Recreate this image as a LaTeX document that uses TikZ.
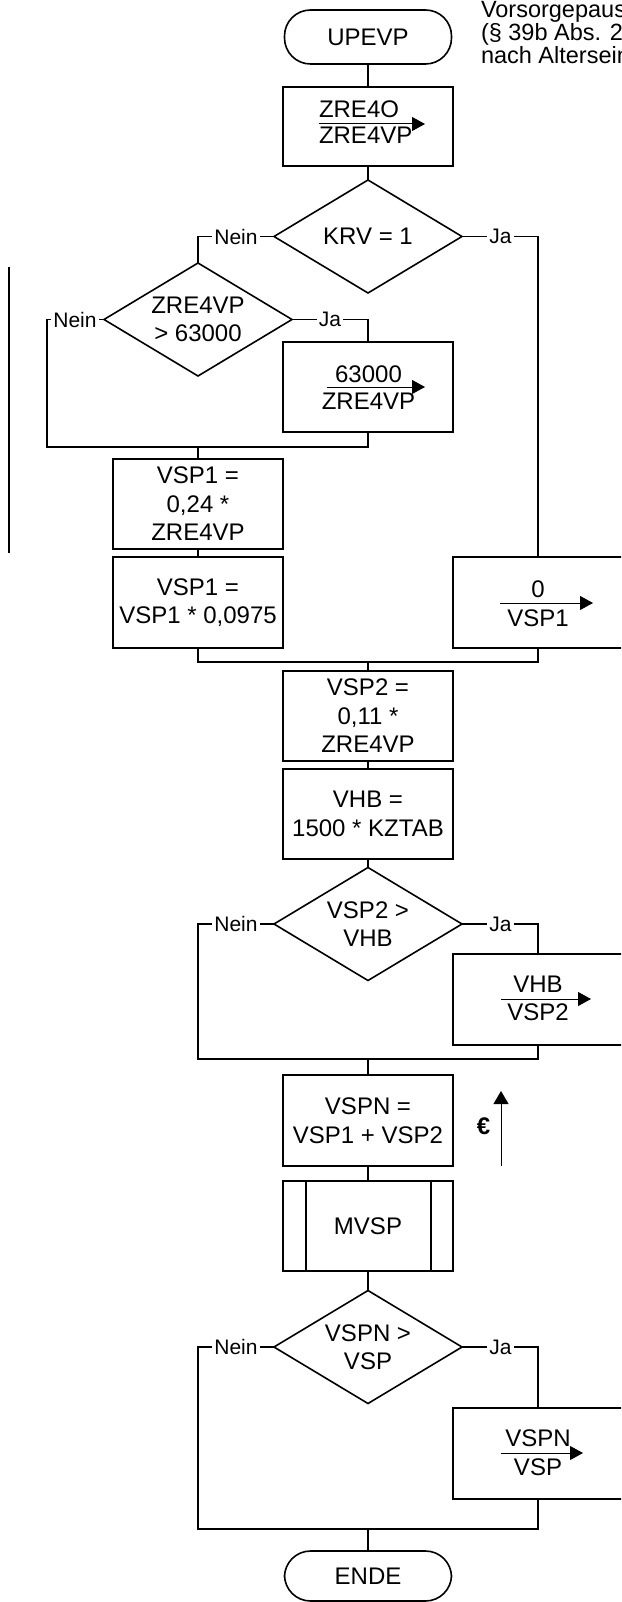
\documentclass[tikz,border=0pt]{standalone}
\usepackage{fontspec}
\setmainfont{Liberation Sans}
\usetikzlibrary{shapes.geometric,arrows.meta,calc}
\newcommand\boxfont{\fontsize{24}{28.5}\selectfont}
\newcommand\lblfont{\fontsize{21}{24}\selectfont}
\newcommand\notefont{\fontsize{23.5}{23.5}\selectfont}
\begin{document}
\begin{tikzpicture}[x=1pt,y=-1pt,
  every node/.style={inner sep=0pt,outer sep=0pt},
  ln/.style={line width=1.6pt},
  proc/.style={draw,line width=1.6pt,minimum width=170pt,minimum height=90pt,align=center,font=\boxfont},
  term/.style={draw,line width=1.6pt,rounded corners=26pt,minimum width=167pt,minimum height=54pt,font=\boxfont},
  dec/.style={diamond,draw,line width=1.6pt,aspect=1.66,minimum width=188pt,minimum height=113pt,align=center,font=\boxfont},
  lbl/.style={fill=white,inner xsep=2pt,inner ysep=1pt,font=\lblfont},
  txt/.style={font=\boxfont},
  asg/.style={line width=1pt,-{Triangle[length=13pt,width=14pt]}},
]
\useasboundingbox (0,0) rectangle (621,1602);
\clip (0,0) rectangle (621,1602);

% annotation text (top right), cut off by the right edge as in the original
\node[anchor=base west,font=\notefont] (t1) at (481,18) {Vorsorgepauschale};
\node[anchor=base west,font=\notefont] (t2) at (481,41) {(§ 39b Abs. 2 Satz 5};
\node[anchor=base west,font=\notefont] (t3) at (481,64) {nach Alterseinkünften};

% nodes
\node[term] (start) at (368,37) {UPEVP};
\node[proc,minimum height=79pt] (z1) at (368,126.5) {};
\node[dec] (krv) at (368,236.5) {KRV = 1};
\node[dec] (d63) at (198,319.5) {ZRE4VP\\> 63000};
\node[proc] (a63) at (368,387) {};
\node[proc] (vsp1a) at (198,504) {VSP1 =\\0,24 *\\ZRE4VP};
\node[proc,minimum height=91pt] (vsp1b) at (198,602.5) {VSP1 =\\VSP1 * 0,0975};
\node[proc,minimum height=91pt] (a0) at (538,602.5) {};
\node[proc] (vsp2) at (368,716) {VSP2 =\\0,11 *\\ZRE4VP};
\node[proc] (vhb) at (368,814) {VHB =\\1500 * KZTAB};
\node[dec] (d2) at (368,924) {VSP2 >\\VHB};
\node[proc,minimum height=91pt] (avhb) at (538,999.5) {};
\node[proc,minimum height=91pt] (vspn) at (368,1120.5) {VSPN =\\VSP1 + VSP2};
\node[proc] (mvsp) at (368,1226) {MVSP};
\node[dec] (d3) at (368,1347) {VSPN >\\VSP};
\node[proc,minimum height=91pt] (avspn) at (538,1453.5) {};
\node[term,minimum height=50pt] (ende) at (368,1576) {ENDE};

% subroutine side bars
\draw[ln] ($(mvsp.north west)+(23,0)$) -- ($(mvsp.south west)+(23,0)$);
\draw[ln] ($(mvsp.north east)+(-22,0)$) -- ($(mvsp.south east)+(-22,0)$);

% assignment contents
\node[txt,anchor=base west] (z1n) at (319,117.5) {ZRE4O};
\node[txt,anchor=base west] (z1d) at (319,144) {ZRE4VP};
\draw[asg] ($(z1.center)+(-49,-2.5)$) -- ($(z1.center)+(57,-2.5)$);

\node[txt,anchor=base] (a63n) at (368.5,382) {63000};
\node[txt,anchor=base] (a63d) at (368.5,409) {ZRE4VP};
\draw[asg] ($(a63.center)+(-41,0)$) -- ($(a63.center)+(57,0)$);

\node[txt,anchor=base] (a0n) at (538,597) {0};
\node[txt,anchor=base] (a0d) at (538,626) {VSP1};
\draw[asg] ($(a0.center)+(-38,0.5)$) -- ($(a0.center)+(55,0.5)$);

\node[txt,anchor=base] (avhbn) at (538,992) {VHB};
\node[txt,anchor=base] (avhbd) at (538,1020.5) {VSP2};
\draw[asg] ($(avhb.center)+(-37,-0.5)$) -- ($(avhb.center)+(53,-0.5)$);

\node[txt,anchor=base] (avspnn) at (538,1446.5) {VSPN};
\node[txt,anchor=base] (avspnd) at (538,1475.5) {VSP};
\draw[asg] ($(avspn.center)+(-37,-0.5)$) -- ($(avspn.center)+(45,-0.5)$);

% main connectors
\draw[ln] (start) -- (z1);
\draw[ln] (z1) -- (krv);

\draw[ln] (krv.west) -| (d63.north);
\node[lbl] (n1) at (236,236.5) {Nein};
\draw[ln] (krv.east) -| (a0.north);
\node[lbl] (j1) at (500.5,236.5) {Ja};

\coordinate (m1l) at (47,447);
\coordinate (m1c) at (198,447);
\draw[ln] (d63.west) -| (m1l) -| (a63.south);
\node[lbl] (n2) at (75,319.5) {Nein};
\draw[ln] (d63.east) -| (a63.north);
\node[lbl] (j2) at (330,319.5) {Ja};
\draw[ln] (m1c) -- (vsp1a);
\draw[ln] (vsp1a) -- (vsp1b);

\coordinate (m2) at (368,662);
\draw[ln] (vsp1b.south) |- (m2) -| (a0.south);
\draw[ln] (m2) -- (vsp2);
\draw[ln] (vsp2) -- (vhb);
\draw[ln] (vhb) -- (d2);

\coordinate (m3l) at (198,1059);
\coordinate (m3) at (368,1059);
\draw[ln] (d2.west) -| (m3l) -| (avhb.south);
\node[lbl] (n3) at (236,924) {Nein};
\draw[ln] (d2.east) -| (avhb.north);
\node[lbl] (j3) at (500.5,924) {Ja};
\draw[ln] (m3) -- (vspn);
\draw[ln] (vspn) -- (mvsp);
\draw[ln] (mvsp) -- (d3);

\coordinate (m4l) at (198,1529);
\coordinate (m4) at (368,1529);
\draw[ln] (d3.west) -| (m4l) -| (avspn.south);
\node[lbl] (n4) at (236,1347) {Nein};
\draw[ln] (d3.east) -| (avspn.north);
\node[lbl] (j4) at (500.5,1347) {Ja};
\draw[ln] (m4) -- (ende);

% side bar and euro arrow
\coordinate (b1) at (9,267);
\coordinate (b2) at (9,553);
\draw[line width=1.3pt] (b1) -- (b2);
\coordinate (e1) at (501,1166);
\coordinate (e2) at (501,1091);
\draw[line width=1pt,-{Triangle[length=13pt,width=15pt]}] (e1) -- (e2);
\node[font=\bfseries\fontsize{24}{26}\selectfont] (eur) at (483.5,1126) {€};
\end{tikzpicture}
\end{document}
